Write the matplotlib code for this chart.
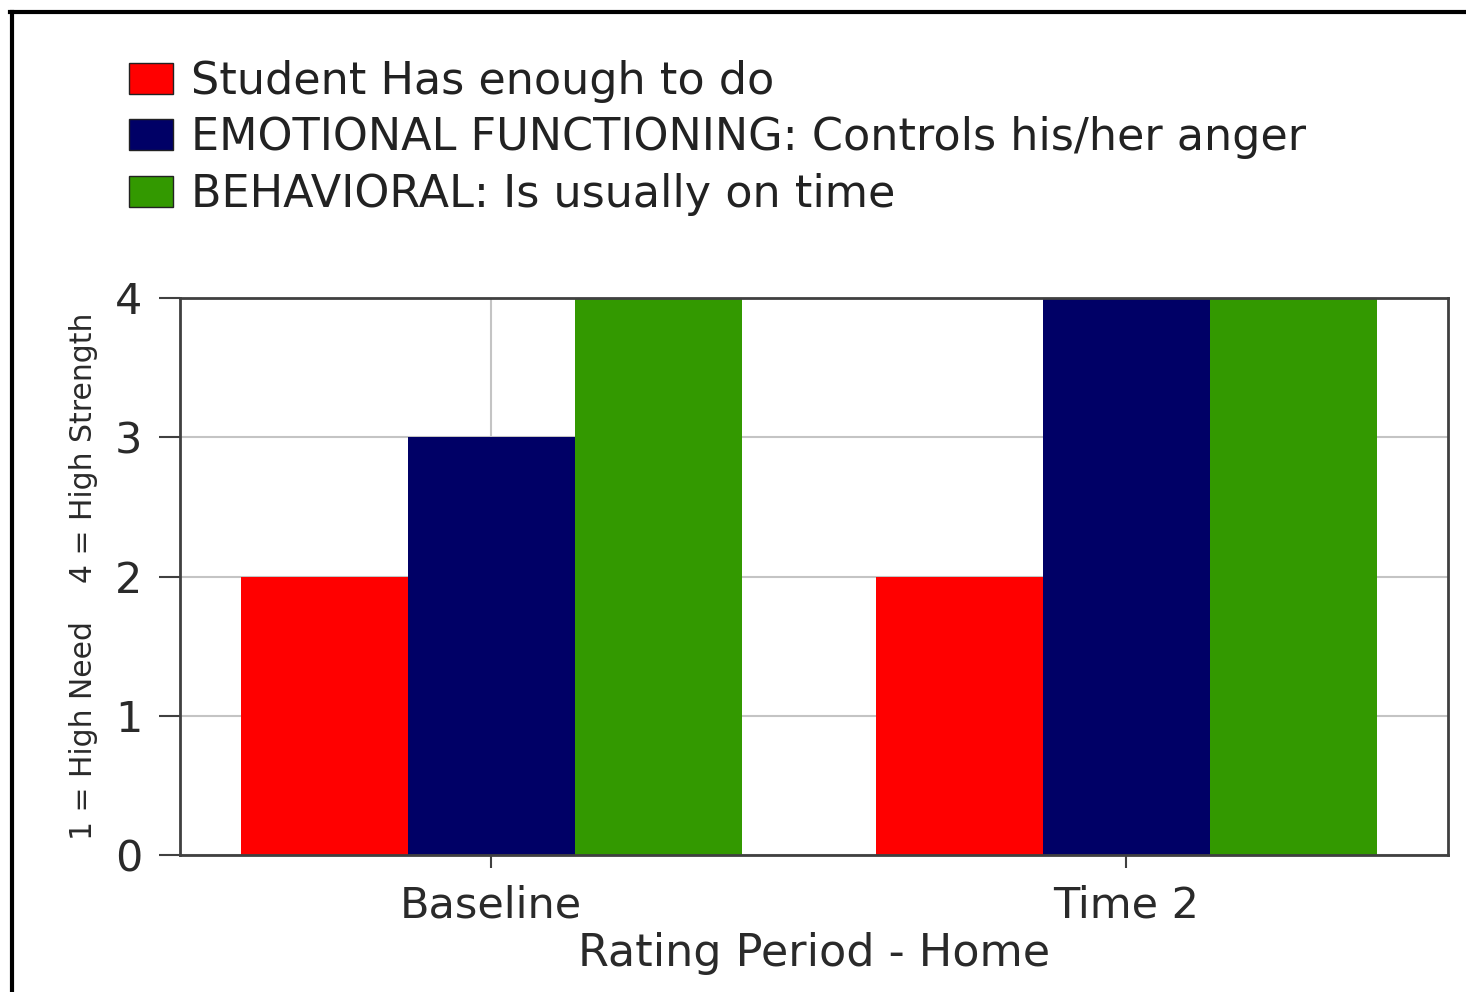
import matplotlib
matplotlib.use("Agg")
import matplotlib.pyplot as plt
from matplotlib.lines import Line2D
import numpy as np

# ---- data ----
categories = ["Baseline", "Time 2"]
series_names = [
    "Student Has enough to do",
    "EMOTIONAL FUNCTIONING: Controls his/her anger",
    "BEHAVIORAL: Is usually on time",
]
series_values = [
    [2, 2],
    [3, 4],
    [4, 4],
]
series_colors = ["#ff0000", "#000066", "#339900"]
y_ticks = [0, 1, 2, 3, 4]
x_label = "Rating Period - Home"
y_label = "1 = High Need    4 = High Strength"

plt.rcParams["font.family"] = ["DejaVu Sans"]

fig = plt.figure(figsize=(14.66, 9.92), dpi=100)
ax = fig.add_axes([180 / 1466, 1 - 855 / 992, (1448 - 180) / 1466, (855 - 298) / 992])

x = np.arange(len(categories))
bw = 0.263
for i, (name, vals, col) in enumerate(zip(series_names, series_values, series_colors)):
    ax.bar(x + (i - 1) * bw, vals, width=bw, color=col, label=name, zorder=2,
           linewidth=0)

ax.set_xlim(-0.49, 1.507)
ax.set_ylim(0, 4)
ax.set_yticks(y_ticks)
ax.set_xticks(x)
ax.set_xticklabels(categories)
ax.grid(True, color="#c4c4c4", linewidth=1.5, zorder=0)
ax.set_axisbelow(True)
for s in ax.spines.values():
    s.set_color("#404040")
    s.set_linewidth(2)
ax.tick_params(axis="y", length=15, width=1.5, color="#404040", pad=12, labelsize=31,
               labelcolor="#2a2a2a")
ax.tick_params(axis="x", length=9, width=1.5, color="#404040", pad=12, labelsize=31,
               labelcolor="#2a2a2a")
ax.set_xlabel(x_label, fontsize=32, color="#2a2a2a", labelpad=4)
ax.set_ylabel(y_label, fontsize=21.5, color="#2a2a2a", labelpad=12)

handles = [plt.Rectangle((0, 0), 1, 1, facecolor=c, edgecolor="#222222", linewidth=1)
           for c in series_colors]
fig.legend(handles, series_names, loc="upper left",
           bbox_to_anchor=(129 / 1466, 1 - 60 / 992), frameon=False, fontsize=32,
           handlelength=1.0, handleheight=0.7, handletextpad=0.4,
           labelspacing=0.3, borderpad=0, borderaxespad=0,
           labelcolor="#222222")

# outer frame (top and left dark edge of the picture)
fig.add_artist(Line2D([10 / 1466, 1464 / 1466], [1 - 12 / 992, 1 - 12 / 992],
                      transform=fig.transFigure, color="black", linewidth=3))
fig.add_artist(Line2D([12 / 1466, 12 / 1466], [0, 1 - 12 / 992],
                      transform=fig.transFigure, color="black", linewidth=3))

fig.savefig("out.png", dpi=100)
